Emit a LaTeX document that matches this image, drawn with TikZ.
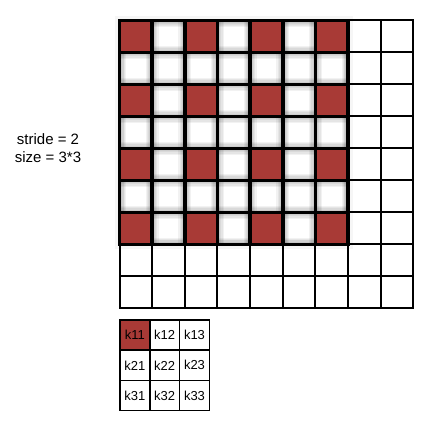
\documentclass[tikz,border=0pt]{standalone}
\usepackage{fontspec}
\setmainfont{Liberation Sans}
\definecolor{kred}{RGB}{168,58,54}
\begin{document}
\begin{tikzpicture}[x=1pt,y=-1pt,
  thinline/.style={line width=2pt, black},
  thickline/.style={line width=3.5pt, black, line cap=rect},
  shadowline/.style={line width=#1, black, opacity=0.05},
  kcell/.style={draw, line width=1.6pt, minimum width=29.8pt, minimum height=30.2pt, inner sep=0pt, outer sep=0pt, font=\fontsize{13}{15}\selectfont},
  lbl/.style={font=\fontsize{15}{18}\selectfont, anchor=base, inner sep=0pt}]
\useasboundingbox (0,0) rectangle (424,422);
\fill[white] (0,0) rectangle (424,422);
\def\gx{119.5}\def\gw{32.65}\def\gy{20.5}\def\gh{32}
% faint outer shadow of the 7x7 block
\draw[line width=9pt, black, opacity=0.035] (\gx,\gy) rectangle ({\gx+7*\gw},{\gy+7*\gh});
% soft shadow inside the 7x7 block
\begin{scope}
  \clip (\gx,\gy) rectangle ({\gx+7*\gw},{\gy+7*\gh});
  \foreach \w in {13pt,10.5pt,8pt,5.5pt}{
    \draw[shadowline=\w] (\gx,\gy) rectangle ({\gx+7*\gw},{\gy+7*\gh});
    \foreach \i in {1,...,6}{
      \draw[shadowline=\w] ({\gx+\i*\gw},\gy) -- ({\gx+\i*\gw},{\gy+7*\gh});
      \draw[shadowline=\w] (\gx,{\gy+\i*\gh}) -- ({\gx+7*\gw},{\gy+\i*\gh});
    }
  }
\end{scope}
% red cells
\foreach \r in {0,2,4,6}{
  \foreach \c in {0,2,4,6}{
    \fill[kred] ({\gx+\c*\gw},{\gy+\r*\gh}) rectangle ++(\gw,\gh);
  }
}
% thin 9x9 grid
\draw[thinline] (\gx,\gy) rectangle ({\gx+9*\gw},{\gy+9*\gh});
\foreach \i in {1,...,8}{
  \draw[thinline] ({\gx+\i*\gw},\gy) -- ({\gx+\i*\gw},{\gy+9*\gh});
  \draw[thinline] (\gx,{\gy+\i*\gh}) -- ({\gx+9*\gw},{\gy+\i*\gh});
}
% thick 7x7 grid
\draw[thickline] (\gx,\gy) rectangle ({\gx+7*\gw},{\gy+7*\gh});
\foreach \i in {1,...,6}{
  \draw[thickline] ({\gx+\i*\gw},\gy) -- ({\gx+\i*\gw},{\gy+7*\gh});
  \draw[thickline] (\gx,{\gy+\i*\gh}) -- ({\gx+7*\gw},{\gy+\i*\gh});
}
% kernel
\foreach \r in {1,2,3}{
  \foreach \c in {1,2,3}{
    \node[kcell] (k\r\c) at ({120+29.8*(\c-0.5)},{320+30.2*(\r-0.5)}) {k\r\c};
  }
}
\node[kcell, fill=kred] at (k11) {k11};
% labels
\node[lbl] (stride) at (48,145) {stride = 2};
\node[lbl] (size) at (48,162.7) {size = 3*3};
\end{tikzpicture}
\end{document}
